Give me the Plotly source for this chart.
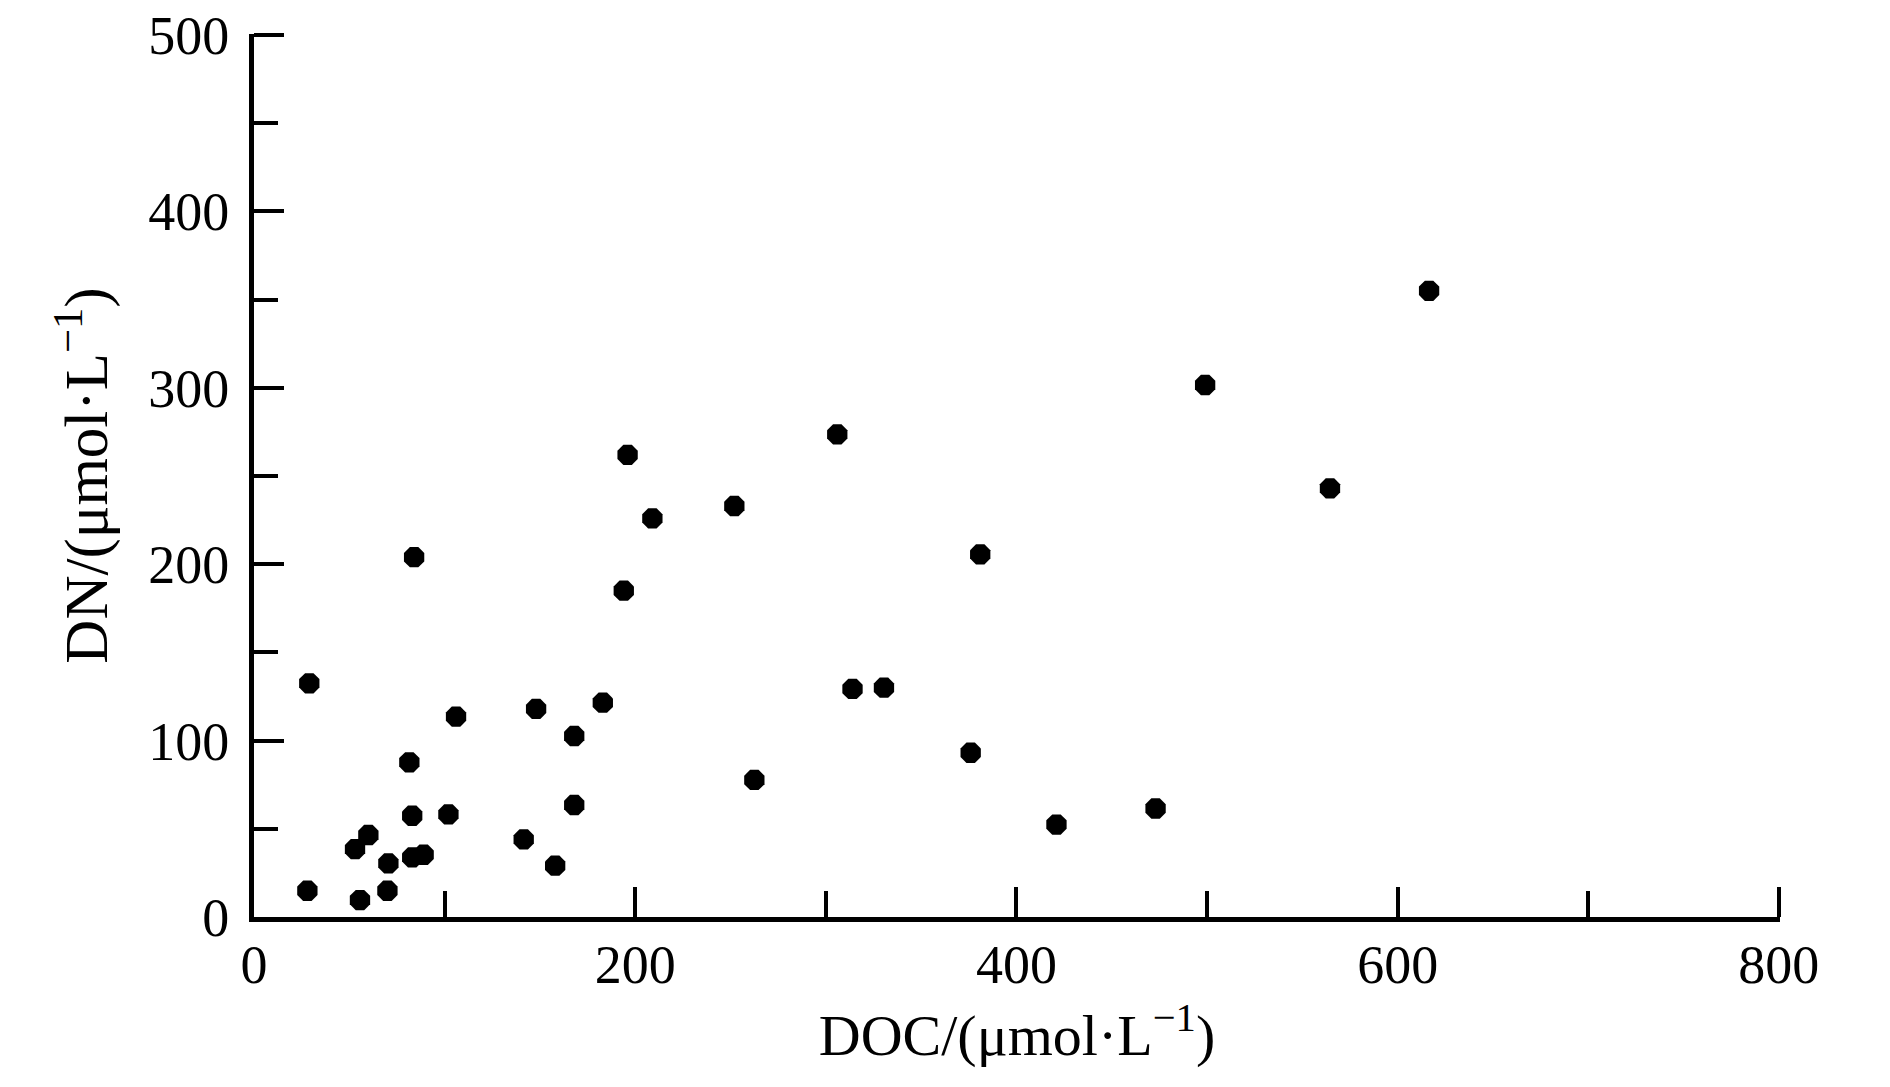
import plotly.graph_objects as go

# DOC (µmol/L) and DN (µmol/L)
doc = [84, 194, 29, 106, 148, 183, 168, 81.5, 83, 102, 168, 60, 53, 141.5, 70.5, 83, 89,
       158, 28, 55.6, 70, 209, 196, 252, 306, 381, 314, 330.5, 376, 262.5,
       421, 473, 499, 564.5, 616.5]
dn = [204, 185, 132.5, 113.6, 118, 121.5, 102.6, 87.7, 57.4, 58.2, 63.5, 46.5, 38.5, 44, 30.4, 33.8, 35.3,
      29.1, 14.9, 9.6, 14.9, 226, 262, 233, 273.6, 205.6, 129.3, 130, 93.1, 77.7,
      52.4, 61.5, 301.6, 243, 355]

x_ticks = [0, 200, 400, 600, 800]
y_ticks = [0, 100, 200, 300, 400, 500]

FONT = "Liberation Serif, Times New Roman, serif"

fig = go.Figure()
fig.add_trace(go.Scatter(
    x=doc, y=dn, mode="markers",
    marker=dict(symbol="octagon", size=22, color="black", line=dict(width=0)),
    showlegend=False, cliponaxis=False,
))

axis_common = dict(
    showgrid=False, zeroline=False, showline=True, linecolor="black", linewidth=5,
    ticks="inside", tickcolor="black", tickwidth=4, ticklen=30,
    tickfont=dict(family=FONT, size=54, color="black"),
    mirror=False, automargin=False, ticklabeloverflow="allow",
)

fig.update_xaxes(
    range=[0, 800.6], tickvals=x_ticks, ticktext=[str(v) for v in x_ticks],
    minor=dict(ticks="inside", dtick=100, ticklen=26, tickwidth=4, tickcolor="black", showgrid=False),
    ticklabelstandoff=-4,
    title=dict(text="DOC/(μmol·L<sup>−1</sup>)", font=dict(family=FONT, size=58, color="black"), standoff=4),
    **axis_common,
)
fig.update_yaxes(
    range=[0, 500.6], tickvals=y_ticks, ticktext=[str(v) for v in y_ticks],
    minor=dict(ticks="inside", dtick=50, ticklen=24, tickwidth=4, tickcolor="black", showgrid=False),
    ticklabelstandoff=9,
    title=dict(text="DN/(μmol·L<sup>−1</sup>)", font=dict(family=FONT, size=61, color="black"), standoff=22),
    **axis_common,
)

fig.update_layout(
    width=1890, height=1087,
    margin=dict(l=254, r=110, t=34, b=170, pad=0),
    plot_bgcolor="white", paper_bgcolor="white",
)

fig.write_html(
    "out.html",
    config={"displayModeBar": False},
    post_script="document.body.style.margin='0';document.body.style.overflow='hidden';",
)
